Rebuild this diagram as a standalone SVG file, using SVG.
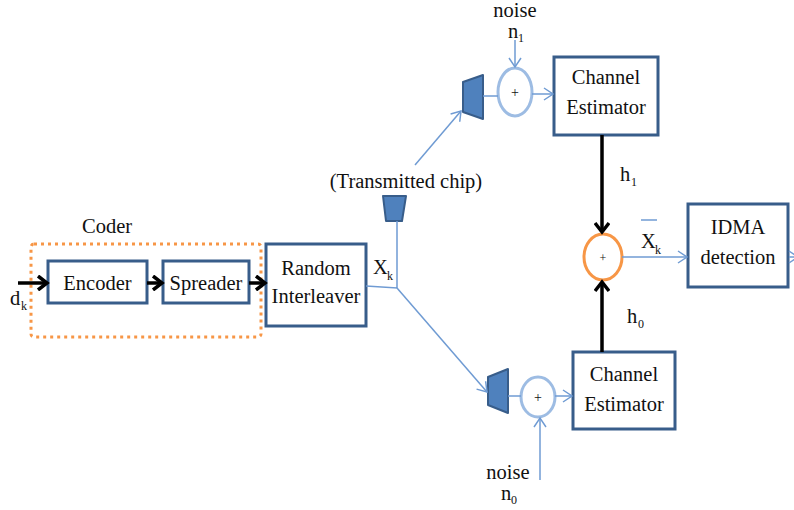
<svg xmlns="http://www.w3.org/2000/svg" width="794" height="510" viewBox="0 0 794 510">
<defs>
<style>
text{font-family:'Liberation Serif','Times New Roman',Times,serif;fill:#111}
.t{font-size:20.5px}
.s{font-size:12px}
.p{font-size:14px}
.box{fill:#fff;stroke:#385d8a;stroke-width:3}
.trap{fill:#4f81bd;stroke:#385d8a;stroke-width:2;stroke-linejoin:round}
.bl{fill:none;stroke:#6f9bd3;stroke-width:1.5}
.bk{fill:none;stroke:#000;stroke-width:3.5}
.sum{fill:#fff;stroke:#9dbce3;stroke-width:3}
</style>
<marker id="ab" markerUnits="userSpaceOnUse" markerWidth="14" markerHeight="16" refX="11" refY="8" orient="auto">
<path d="M2,1 L11,8 L2,15" fill="none" stroke="#000" stroke-width="3.5"/>
</marker>
<marker id="al" markerUnits="userSpaceOnUse" markerWidth="12" markerHeight="14" refX="10" refY="7" orient="auto">
<path d="M1,1 L10,7 L1,13" fill="none" stroke="#6f9bd3" stroke-width="1.5"/>
</marker>
</defs>
<g font-family="Liberation Serif, Times New Roman, serif">
<g id="coder">
<rect x="31" y="244" width="230" height="93" rx="3" fill="none" stroke="#f79646" stroke-width="3" stroke-dasharray="3,4"/>
<text class="t" x="82" y="233">Coder</text>
</g>
<g id="encoder">
<rect class="box" x="48" y="261" width="99" height="42"/>
<text class="t" x="97.5" y="290" text-anchor="middle">Encoder</text>
</g>
<g id="spreader">
<rect class="box" x="163" y="261" width="86" height="42"/>
<text class="t" x="206" y="290" text-anchor="middle">Spreader</text>
</g>
<g id="interleaver">
<rect class="box" x="266" y="244" width="100" height="82"/>
<text class="t" x="316" y="275" text-anchor="middle">Random</text>
<text class="t" x="316" y="303" text-anchor="middle">Interleaver</text>
</g>
<g id="chip">
<polygon class="trap" points="383,196 406,196 402,221 386,221"/>
<text class="t" x="406" y="188" text-anchor="middle">(Transmitted chip)</text>
</g>
<g id="ant1">
<polygon class="trap" points="463,82 483,75 483,119 463,112"/>
</g>
<g id="ant0">
<polygon class="trap" points="488,377 508,369 508,413 488,405"/>
</g>
<g id="sum1">
<ellipse class="sum" cx="515" cy="92" rx="17" ry="24"/>
<text class="p" x="515" y="97" text-anchor="middle">+</text>
</g>
<g id="sum0">
<ellipse class="sum" cx="538" cy="397" rx="17" ry="20"/>
<text class="p" x="538" y="402" text-anchor="middle">+</text>
</g>
<g id="ce1">
<rect class="box" x="554" y="57" width="104" height="78"/>
<text class="t" x="606" y="84" text-anchor="middle">Channel</text>
<text class="t" x="606" y="114" text-anchor="middle">Estimator</text>
</g>
<g id="ce0">
<rect class="box" x="573" y="352" width="102" height="77"/>
<text class="t" x="624" y="381" text-anchor="middle">Channel</text>
<text class="t" x="624" y="411" text-anchor="middle">Estimator</text>
</g>
<g id="combiner">
<ellipse cx="603" cy="257" rx="19" ry="23" fill="#fff" stroke="#f79646" stroke-width="3"/>
<text class="s" x="603" y="262" text-anchor="middle">+</text>
</g>
<g id="idma">
<rect class="box" x="688" y="204" width="100" height="83"/>
<text class="t" x="738" y="234" text-anchor="middle">IDMA</text>
<text class="t" x="738" y="264" text-anchor="middle">detection</text>
</g>

<g id="labels">
<text class="t" x="10" y="305">d</text><text class="s" x="21" y="310">k</text>
<text class="t" x="373" y="274">X</text><text class="s" x="387" y="280">k</text>
<text class="t" x="515" y="17" text-anchor="middle">noise</text>
<text class="t" x="508" y="38">n</text><text class="s" x="518" y="42">1</text>
<text class="t" x="508" y="479" text-anchor="middle">noise</text>
<text class="t" x="501" y="500">n</text><text class="s" x="511" y="504">0</text>
<text class="t" x="620" y="181">h</text><text class="s" x="631" y="186">1</text>
<text class="t" x="627" y="323">h</text><text class="s" x="638" y="328">0</text>
<line x1="641" y1="220" x2="657" y2="220" stroke="#6f9bd3" stroke-width="1.5"/>
<text class="t" x="641" y="248">X</text><text class="s" x="655" y="254">k</text>
</g>
</g>
<g id="connectors">
<line class="bk" x1="18" y1="283" x2="47" y2="283" marker-end="url(#ab)"/>
<line class="bk" x1="147" y1="283" x2="162" y2="283" marker-end="url(#ab)"/>
<line class="bk" x1="249" y1="283" x2="265" y2="283" marker-end="url(#ab)"/>
<polyline class="bl" points="366,286 397,288 397,221"/>
<line class="bl" x1="397" y1="288" x2="487" y2="392" marker-end="url(#al)"/>
<line class="bl" x1="415" y1="165" x2="461" y2="111" marker-end="url(#al)"/>
<line class="bl" x1="483" y1="96" x2="498" y2="96"/>
<line class="bl" x1="532" y1="94" x2="553" y2="94" marker-end="url(#al)"/>
<line class="bl" x1="515" y1="40" x2="515" y2="67" marker-end="url(#al)"/>
<line class="bl" x1="508" y1="396" x2="521" y2="396"/>
<line class="bl" x1="555" y1="396" x2="572" y2="396" marker-end="url(#al)"/>
<line class="bl" x1="540" y1="480" x2="540" y2="418" marker-end="url(#al)"/>
<line class="bk" x1="602" y1="135" x2="602" y2="232" marker-end="url(#ab)"/>
<line class="bk" x1="602" y1="352" x2="602" y2="282" marker-end="url(#ab)"/>
<line class="bl" x1="622" y1="257" x2="687" y2="257" marker-end="url(#al)"/>
<line class="bl" x1="789" y1="257" x2="798" y2="257" marker-end="url(#al)"/>
</g>
</svg>
